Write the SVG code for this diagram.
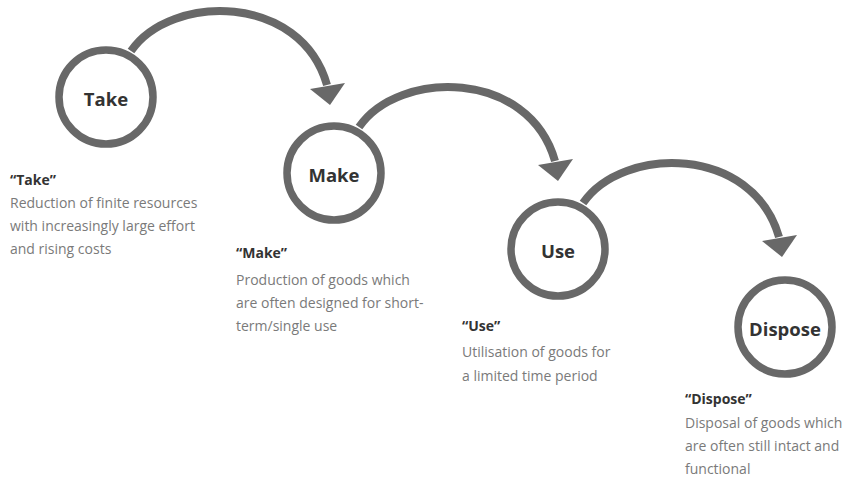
<svg xmlns="http://www.w3.org/2000/svg" width="852" height="480" viewBox="0 0 852 480">
<defs>
<style>
.ring{fill:#fff;stroke:#686868;stroke-width:7.5}
.lbl{font-family:"Open Sans","Noto Sans",sans-serif;font-weight:bold;font-size:18.5px;fill:#333;text-anchor:middle;dominant-baseline:central}
.ttl{font-family:"Open Sans","Noto Sans",sans-serif;font-weight:bold;font-size:14px;fill:#333}
.body{font-family:"Open Sans","Noto Sans",sans-serif;font-size:14px;fill:#7a7a7a}
.arc{fill:none;stroke:#686868;stroke-width:8}
.head{fill:#686868}
</style>
<g id="arrowShape">
<path class="arc" d="M25,-46 C65,-104 195,-104 221,-12"/>
<polygon class="head" points="204,-8 239,-14 224,8"/>
</g>
</defs>
<rect width="852" height="480" fill="#fff"/>
<g id="connectors">
<use href="#arrowShape" transform="translate(106,97)"/>
<use href="#arrowShape" transform="translate(334,173)"/>
<use href="#arrowShape" transform="translate(558,249)"/>
</g>
<g id="take">
<circle class="ring" cx="106" cy="97" r="47"/>
<text class="lbl" x="106" y="98">Take</text>
<text class="ttl" x="10" y="185">“Take”</text>
<text class="body" x="10" y="208">Reduction of finite resources</text>
<text class="body" x="10" y="231">with increasingly large effort</text>
<text class="body" x="10" y="254">and rising costs</text>
</g>
<g id="make">
<circle class="ring" cx="334" cy="173" r="47"/>
<text class="lbl" x="334" y="174">Make</text>
<text class="ttl" x="236" y="258">“Make”</text>
<text class="body" x="236" y="285">Production of goods which</text>
<text class="body" x="236" y="308">are often designed for short-</text>
<text class="body" x="236" y="331">term/single use</text>
</g>
<g id="use">
<circle class="ring" cx="558" cy="249" r="47"/>
<text class="lbl" x="558" y="250">Use</text>
<text class="ttl" x="462" y="331">“Use”</text>
<text class="body" x="462" y="357">Utilisation of goods for</text>
<text class="body" x="462" y="381">a limited time period</text>
</g>
<g id="dispose">
<circle class="ring" cx="785" cy="327" r="47"/>
<text class="lbl" x="785" y="328">Dispose</text>
<text class="ttl" x="685" y="404">“Dispose”</text>
<text class="body" x="685" y="428">Disposal of goods which</text>
<text class="body" x="685" y="451">are often still intact and</text>
<text class="body" x="685" y="474">functional</text>
</g>
</svg>
